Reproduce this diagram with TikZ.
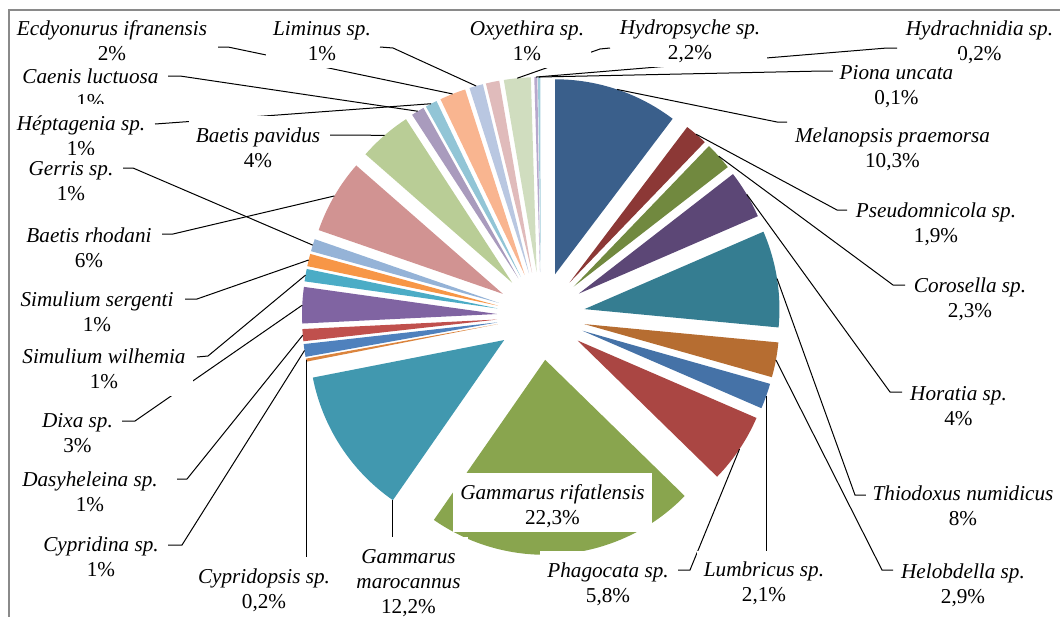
\documentclass[tikz,border=0pt]{standalone}
\usepackage{fontspec}
\setmainfont{Liberation Serif}
\usetikzlibrary{calc}
\definecolor{cMel}{HTML}{3A5F8B}
\definecolor{cPse}{HTML}{8C3836}
\definecolor{cCor}{HTML}{71893F}
\definecolor{cHor}{HTML}{5C4776}
\definecolor{cThi}{HTML}{357D91}
\definecolor{cHel}{HTML}{B66D31}
\definecolor{cLum}{HTML}{4572A7}
\definecolor{cPha}{HTML}{AA4643}
\definecolor{cRif}{HTML}{89A54E}
\definecolor{cMar}{HTML}{4198AF}
\definecolor{cCypo}{HTML}{DB843D}
\definecolor{cCypi}{HTML}{4F81BD}
\definecolor{cDas}{HTML}{C0504D}
\definecolor{cDix}{HTML}{8064A2}
\definecolor{cWil}{HTML}{4BACC6}
\definecolor{cSer}{HTML}{F79646}
\definecolor{cGer}{HTML}{95B3D7}
\definecolor{cRho}{HTML}{D19392}
\definecolor{cPav}{HTML}{B9CD96}
\definecolor{cCae}{HTML}{A99BBD}
\definecolor{cHep}{HTML}{92C5D6}
\definecolor{cEcd}{HTML}{F9B590}
\definecolor{cLim}{HTML}{B9C7E1}
\definecolor{cOxy}{HTML}{E0BBBB}
\definecolor{cHyd}{HTML}{D0DDBF}
\definecolor{cHdr}{HTML}{B7A8CC}
\definecolor{cPio}{HTML}{A0CCDA}
\definecolor{frameGray}{HTML}{8A8A8A}
% slice: name, colour, start and end angle (clockwise from 12 o'clock)
\newcommand\pieslice[4]{%
  \pgfmathsetmacro\slA{#3-90}%
  \pgfmathsetmacro\slB{#4-90}%
  \pgfmathsetmacro\slM{(#3+#4)/2-90}%
  \fill[#2] ($(C)+(\slM:44)$) -- ++(\slA:195) arc[start angle=\slA,end angle=\slB,radius=195] -- cycle;
  \coordinate (s-#1) at ($(C)+(\slM:239)$);}
\newcommand\leadline[3]{%
  \coordinate (a-#1) at #2; \coordinate (b-#1) at #3;
  \draw[lead] (a-#1) -- (b-#1) -- (s-#1);}
\newcommand\twolines[3][33.5pt]{\rule[-7.5pt]{0pt}{#1}\textit{#2}\\\strut #3}
\begin{document}
\begin{tikzpicture}[x=1pt,y=-1pt,
  lead/.style={draw=black,line width=1pt},
  lab/.style={fill=white,inner xsep=7pt,inner ysep=0pt,align=center,anchor=north,
    font=\fontsize{21.2}{25}\selectfont}]
\useasboundingbox (0,0) rectangle (1060,616);
\clip (0,0) rectangle (1060,616);
\coordinate (C) at (541,316);
% slices
\pieslice{mel}{cMel}{0}{37.1}
\pieslice{pse}{cPse}{37.1}{43.9}
\pieslice{cor}{cCor}{43.9}{52.2}
\pieslice{hor}{cHor}{52.2}{66.6}
\pieslice{thi}{cThi}{66.6}{95.4}
\pieslice{hel}{cHel}{95.4}{105.8}
\pieslice{lum}{cLum}{105.8}{113.4}
\pieslice{pha}{cPha}{113.4}{134.3}
\pieslice{rif}{cRif}{134.3}{214.8}
\pieslice{mar}{cMar}{214.8}{258.9}
\pieslice{cypo}{cCypo}{258.9}{259.8}
\pieslice{cypi}{cCypi}{259.8}{263.6}
\pieslice{das}{cDas}{263.6}{267.2}
\pieslice{dix}{cDix}{267.2}{278.0}
\pieslice{wil}{cWil}{278.0}{281.7}
\pieslice{ser}{cSer}{281.7}{285.4}
\pieslice{ger}{cGer}{285.4}{289.1}
\pieslice{rho}{cRho}{289.1}{311.2}
\pieslice{pav}{cPav}{311.2}{327.0}
\pieslice{cae}{cCae}{327.0}{330.9}
\pieslice{hep}{cHep}{330.9}{334.4}
\pieslice{ecd}{cEcd}{334.4}{342.2}
\pieslice{lim}{cLim}{342.2}{346.3}
\pieslice{oxy}{cOxy}{346.3}{350.3}
\pieslice{hyd}{cHyd}{350.3}{358.3}
\pieslice{hdr}{cHdr}{358.3}{359.2}
\pieslice{pio}{cPio}{359.2}{359.9}
\coordinate (s-marc) at ($(C)+(146.85:44)+(124.8:195)$);
% leader lines
\leadline{ecd}{(218,47)}{(228,47)}
\leadline{cae}{(168,76)}{(180,76)}
\leadline{hep}{(155,124)}{(165,123.3)}
\leadline{ger}{(123,168)}{(133,168)}
\leadline{rho}{(162,234)}{(173,234)}
\leadline{ser}{(185,299)}{(197,299)}
\leadline{wil}{(197,357)}{(208,356)}
\leadline{dix}{(122,421)}{(135,421)}
\leadline{das}{(177,479)}{(187,479)}
\leadline{cypi}{(168,545)}{(182,545)}
\leadline{pha}{(678,570)}{(690,570)}
\leadline{hel}{(893,570)}{(882,570)}
\leadline{thi}{(866,495)}{(855,495)}
\leadline{hor}{(902,392)}{(890,392)}
\leadline{cor}{(905,285)}{(893,285)}
\leadline{pse}{(847,210)}{(837,210)}
\leadline{mel}{(787,122)}{(777,122)}
\leadline{pio}{(833,71)}{(823,71)}
\leadline{hdr}{(897,48)}{(887,48)}
\leadline{hyd}{(610,48)}{(600,49)}
\leadline{lim}{(380,47)}{(393,48)}
\leadline{pav}{(330,135)}{(340,135)}
\coordinate (t-cypo) at (0,557);
\coordinate (t-mar) at (0,537);
\coordinate (t-lum) at (0,550.5);
\draw[lead] (s-cypo) -- (s-cypo |- t-cypo);
\draw[lead] (s-marc) -- (s-marc |- t-mar);
\draw[lead] (s-lum) -- (s-lum |- t-lum);
% labels
\node[lab] (L-cae) at (90.5,57) {\twolines{Caenis luctuosa}{1\%}};
\node[lab] (L-ecd) at (112,9) {\twolines{Ecdyonurus ifranensis}{2\%}};
\node[lab] (L-lim) at (322,9) {\twolines{Liminus sp.}{1\%}};
\node[lab] (L-oxy) at (527,9) {\twolines{Oxyethira sp.}{1\%}};
\node[lab] (L-hyd) at (690,8) {\twolines{Hydropsyche sp.}{2,2\%}};
\node[lab] (L-hdr) at (979.5,9) {\twolines{Hydrachnidia sp.}{0,2\%}};
\node[lab] (L-pio) at (896.5,53.5) {\twolines{Piona uncata}{0,1\%}};
\node[lab] (L-hep) at (81,104) {\twolines{Héptagenia sp.}{1\%}};
\node[lab] (L-ger) at (71,155) {\twolines[27.5pt]{Gerris sp.}{1\%}};
\node[lab] (L-pav) at (258,116) {\twolines{Baetis pavidus}{4\%}};
\node[lab] (L-rho) at (89,216) {\twolines{Baetis rhodani}{6\%}};
\node[lab] (L-ser) at (97,280.5) {\twolines{Simulium sergenti}{1\%}};
\node[lab] (L-wil) at (104,337) {\twolines{Simulium wilhemia}{1\%}};
\node[lab] (L-dix) at (77.5,401.5) {\twolines{Dixa sp.}{3\%}};
\node[lab] (L-das) at (90,460.5) {\twolines{Dasyheleina sp.}{1\%}};
\node[lab] (L-cypi) at (101,525.5) {\twolines{Cypridina sp.}{1\%}};
\node[lab] (L-cypo) at (264,557) {\twolines{Cypridopsis sp.}{0,2\%}};
\node[lab] (L-mar) at (408.5,537) {\rule[-7.5pt]{0pt}{33.5pt}\textit{Gammarus}\\\strut\textit{marocannus}\\\strut 12,2\%};
\node[lab] (L-rif) at (552.5,473) {\twolines{Gammarus rifatlensis}{22,3\%}};
\node[lab] (L-pha) at (608,551) {\twolines{Phagocata sp.}{5,8\%}};
\node[lab] (L-lum) at (764,550.5) {\twolines{Lumbricus sp.}{2,1\%}};
\node[lab] (L-hel) at (963,552) {\twolines{Helobdella sp.}{2,9\%}};
\node[lab] (L-thi) at (963,474) {\twolines{Thiodoxus numidicus}{8\%}};
\node[lab] (L-hor) at (958.5,374) {\twolines{Horatia sp.}{4\%}};
\node[lab] (L-cor) at (970,266) {\twolines{Corosella sp.}{2,3\%}};
\node[lab] (L-pse) at (936,191) {\twolines{Pseudomnicola sp.}{1,9\%}};
\node[lab] (L-mel) at (892.5,116) {\twolines{Melanopsis praemorsa}{10,3\%}};
% chart frame
\draw[frameGray,line width=1.5pt] (9,10) rectangle (1080,640);
\end{tikzpicture}
\end{document}
